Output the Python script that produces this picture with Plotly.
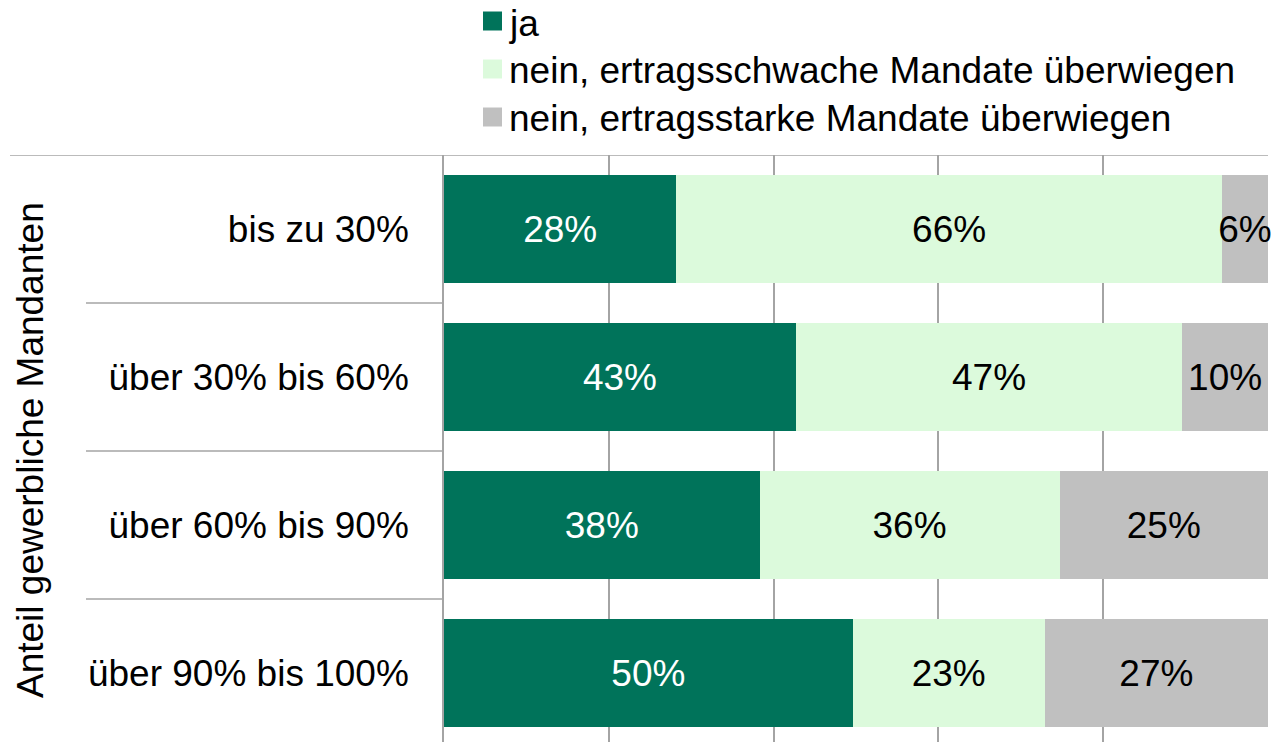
import plotly.graph_objects as go

categories = ["bis zu 30%", "über 30% bis 60%", "über 60% bis 90%", "über 90% bis 100%"]
series_names = ["ja", "nein, ertragsschwache Mandate überwiegen", "nein, ertragsstarke Mandate überwiegen"]
ja = [28.2, 42.7, 38.3, 49.6]
schwach = [66.2, 46.9, 36.4, 23.3]
stark = [5.6, 10.4, 25.3, 27.1]
labels_ja = ["28%", "43%", "38%", "50%"]
labels_schwach = ["66%", "47%", "36%", "23%"]
labels_stark = ["6%", "10%", "25%", "27%"]
x_ticks = [0, 20, 40, 60, 80, 100]

colors = ["#00735A", "#DCFADC", "#C0C0C0"]
text_colors = ["white", "black", "black"]
FONT = "Liberation Sans, Arial, sans-serif"
FS = 37
GRID = "#A4A4A4"

W, H = 1271, 742
L, R, T, B = 444, 3, 155, 0
plot_w = W - L - R
plot_h = H - T - B
band = 148.0
n_bands = plot_h / band


def px(xs):  # screen x -> paper x
    return (xs - L) / plot_w


def py(ys):  # screen y -> paper y
    return 1 + (T - ys) / plot_h


fig = go.Figure()
for name, vals, labs, c, tc in zip(series_names, [ja, schwach, stark],
                                   [labels_ja, labels_schwach, labels_stark],
                                   colors, text_colors):
    fig.add_trace(go.Bar(
        y=categories, x=vals, name=name, orientation="h",
        marker=dict(color=c, line=dict(width=0)),
        text=labs, textposition="inside", insidetextanchor="middle",
        constraintext="none", textangle=0, cliponaxis=False,
        textfont=dict(color=tc, size=FS, family=FONT),
        hoverinfo="skip", showlegend=False,
    ))

fig.update_layout(
    barmode="stack",
    bargap=0.27,
    width=W, height=H,
    margin=dict(l=L, r=R, t=T, b=B, pad=0),
    paper_bgcolor="white", plot_bgcolor="white",
    font=dict(family=FONT, size=FS, color="black"),
    uniformtext=dict(minsize=FS, mode="show"),
    showlegend=False,
    xaxis=dict(
        range=[0, 100], tickvals=x_ticks, showticklabels=False,
        showgrid=True, gridcolor=GRID, gridwidth=1.5,
        zeroline=False, showline=False, fixedrange=True,
    ),
    yaxis=dict(
        categoryorder="array", categoryarray=categories,
        range=[-0.5 + n_bands, -0.5],
        showline=True, linecolor=GRID, linewidth=1.5,
        showgrid=False, zeroline=False, ticks="",
        tickfont=dict(size=FS, family=FONT, color="black"),
        ticklabelstandoff=26, fixedrange=True,
    ),
)

shapes = []
# top border and category separators
shapes.append(dict(type="line", xref="paper", yref="y",
                   x0=px(10), x1=1, y0=-0.5, y1=-0.5,
                   line=dict(color=GRID, width=1.5)))
for b in [0.5, 1.5, 2.5]:
    shapes.append(dict(type="line", xref="paper", yref="y",
                       x0=px(86), x1=0, y0=b, y1=b,
                       line=dict(color=GRID, width=1.5)))

# legend (drawn manually for exact placement)
leg_centers = [21, 69, 117]
for name, c, yc in zip(series_names, colors, leg_centers):
    shapes.append(dict(type="rect", xref="paper", yref="paper",
                       x0=px(483), x1=px(502), y0=py(yc + 9.5), y1=py(yc - 9.5),
                       fillcolor=c, line=dict(width=0)))
    fig.add_annotation(text=name, xref="paper", yref="paper",
                       x=px(508), y=py(yc + 2), xanchor="left", yanchor="middle",
                       showarrow=False, borderpad=0,
                       font=dict(size=FS, family=FONT, color="black"))
fig.update_layout(shapes=shapes)

fig.add_annotation(
    text="Anteil gewerbliche Mandanten", textangle=-90,
    xref="paper", yref="paper", x=px(31), y=py(450),
    xanchor="center", yanchor="middle", showarrow=False,
    font=dict(size=FS, family=FONT, color="black"),
)

fig.write_html("out.html", config={"displayModeBar": False},
               post_script="document.body.style.margin='0';")
